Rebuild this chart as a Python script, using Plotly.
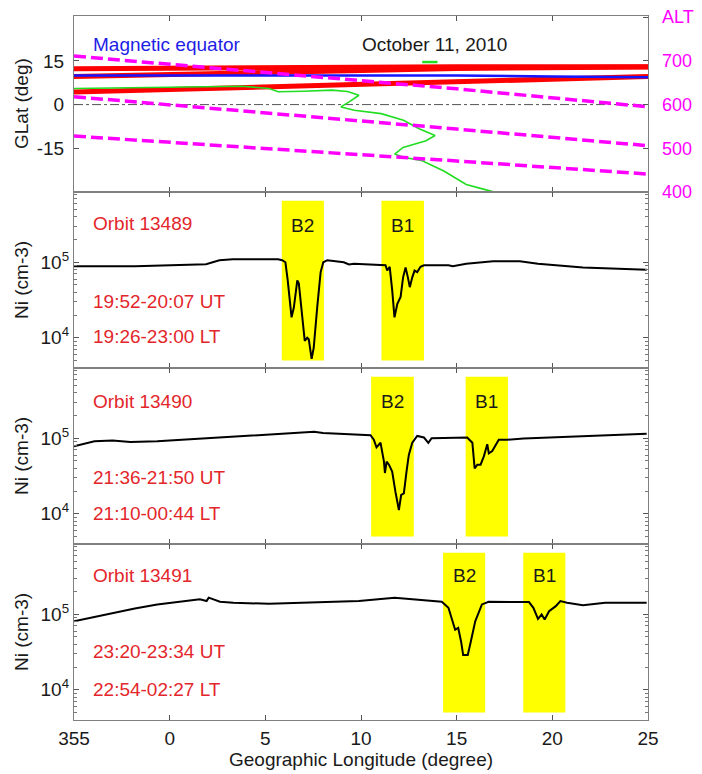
import numpy as np
import plotly.graph_objects as go

# ---------------- data ----------------
lon_tickvals = [-5, 0, 5, 10, 15, 20, 25]
lon_ticktext = ['355', '0', '5', '10', '15', '20', '25']
glat_tickvals = [-15, 0, 15]
glat_ticktext = ['-15', '0', '15']
alt_tickvals = [400, 500, 600, 700, 800]
alt_ticktext = ['400', '500', '600', '700', 'ALT']

# top panel: satellite tracks (GLat), magnetic equator, altitude, green curve
track_lon = [-5, 5, 15, 25]
track_a = [12.3, 12.8, 13.0, 13.0]
track_b = [9.6, 11.2, 12.4, 12.9]
track_c = [4.3, 6.2, 8.0, 9.6]

mag_eq_lon = [-5, 0, 5, 10, 15, 20, 25]
mag_eq_lat = [10.0, 10.0, 10.1, 10.2, 10.0, 9.6, 9.4]

alt_lon = [-5, 5, 15, 25]
alt_1 = [711, 673, 636, 595]
alt_2 = [618, 582, 544, 506]
alt_3 = [528, 500, 471, 441]

green_lon = [-5, -1, 3.8, 5.2, 5.67, 7.0, 8.48, 9.3, 9.89, 9.4, 8.95, 9.65, 11.05,
             12.22, 13.04, 13.87, 13.4, 12.2, 11.76, 12.22, 13.2, 14.33, 15.5, 16.44, 17.14]
green_lat = [5.5, 5.9, 6.3, 5.5, 4.4, 4.6, 4.95, 4.5, 3.2, 1.0, -0.8, -1.97, -3.1,
             -5.4, -8.3, -10.6, -12.4, -14.7, -17.0, -18.1, -19.3, -22.8, -27.4, -29.1, -30.3]
green2_lon = [13.2, 14.0]
green2_lat = [14.6, 14.6]

# Ni profiles (log10 of Ni in cm-3)
lon_13489 = [-5, -1.8, 1.9, 2.6, 3.3, 5.67, 5.88, 6.05, 6.17, 6.28, 6.37, 6.49, 6.67, 6.75,
             6.84, 6.98, 7.06, 7.19, 7.27, 7.42, 7.53, 7.71, 7.89, 8.03, 8.24, 9.1, 9.37,
             9.63, 11.1, 11.28, 11.37, 11.5, 11.63, 11.75, 11.9, 12.07, 12.2, 12.33, 12.45,
             12.55, 12.68, 12.8, 12.94, 13.11, 13.29, 14.57, 14.8, 15.5, 16.9, 18.3, 19.25,
             21.6, 24.93]
logni_13489 = [4.947, 4.947, 4.973, 5.027, 5.04, 5.04, 5.027, 5.0, 4.76, 4.45, 4.27, 4.40,
               4.76, 4.72, 4.49, 4.18, 3.96, 4.0, 3.98, 3.72, 3.87, 4.40, 4.87, 5.0, 5.027,
               5.0, 4.97, 4.98, 4.97, 4.96, 4.89, 4.94, 4.63, 4.27, 4.45, 4.54, 4.80, 4.93,
               4.80, 4.67, 4.80, 4.89, 4.87, 4.94, 4.96, 4.96, 4.947, 4.98, 5.013, 5.013,
               4.98, 4.93, 4.90]

lon_13490 = [-5, -3.93, -2.99, -2.05, -0.65, 1.69, 5.2, 7.55, 8.01, 9.89, 10.5, 10.67,
             10.81, 11.02, 11.2, 11.25, 11.34, 11.46, 11.63, 11.8, 11.98, 12.1, 12.24,
             12.38, 12.5, 12.68, 12.94, 13.29, 13.52, 13.69, 14.68, 15.55, 15.82, 15.94,
             16.08, 16.25, 16.42, 16.6, 16.68, 16.86, 17.2, 17.64, 18.5, 19.9, 21.6, 24.93]
logni_13490 = [4.893, 4.96, 4.97, 4.95, 4.96, 4.996, 5.05, 5.085, 5.07, 5.05, 5.04, 4.98,
               4.88, 4.94, 4.69, 4.54, 4.69, 4.65, 4.56, 4.29, 4.05, 4.25, 4.27, 4.56,
               4.78, 4.94, 5.03, 5.01, 4.94, 5.0, 5.01, 5.01, 4.94, 4.60, 4.65, 4.65,
               4.76, 4.92, 4.80, 4.83, 4.98, 4.98, 4.996, 5.01, 5.027, 5.06]

lon_13491 = [-5, -2.99, -1.82, -0.65, 0.52, 1.58, 1.93, 2.04, 2.63, 3.33, 5.2, 9.89, 11.76,
             13.63, 14.22, 14.57, 14.8, 14.92, 15.08, 15.23, 15.34, 15.58, 15.74, 15.97,
             16.32, 16.67, 18.78, 19.01, 19.25, 19.44, 19.6, 19.83, 20.18, 20.42, 20.77,
             21.6, 22.76, 24.93]
logni_13491 = [4.906, 5.018, 5.076, 5.13, 5.165, 5.197, 5.175, 5.22, 5.165, 5.152, 5.139,
               5.175, 5.22, 5.18, 5.165, 5.085, 4.906, 4.795, 4.82, 4.64, 4.46, 4.46, 4.64,
               4.906, 5.13, 5.165, 5.161, 5.085, 4.94, 4.996, 4.93, 5.04, 5.107, 5.175,
               5.152, 5.12, 5.152, 5.152]

# bubble (B2, B1) longitude extents per orbit and their Ni extent
bubbles_13489 = {'B2': [5.86, 8.06], 'B1': [11.07, 13.29]}
bubbles_13490 = {'B2': [10.53, 12.76], 'B1': [15.47, 17.68]}
bubbles_13491 = {'B2': [14.29, 16.49], 'B1': [18.48, 20.68]}
bubble_ni = [5.0e3, 6.5e5]

orbits = ['13489', '13490', '13491']
orbit_ut = ['19:52-20:07 UT', '21:36-21:50 UT', '23:20-23:34 UT']
orbit_lt = ['19:26-23:00 LT', '21:10-00:44 LT', '22:54-02:27 LT']

# ---------------- styles ----------------
FONT = 'Liberation Sans, Arial, sans-serif'
FS = 19
AXC = '#808080'
TXT = '#1a1a1a'
RED_TXT = '#e3262b'
W, H = 702, 774
ML, MR, MT, MB = 74, 54, 16, 54
PW, PH = W - ML - MR, H - MT - MB


def py2paper(py):
    return (H - MB - py) / PH


def px2paper(px):
    return (px - ML) / PW


fig = go.Figure()

# top panel traces
for tr in (track_a, track_b, track_c):
    fig.add_trace(go.Scatter(x=track_lon, y=tr, mode='lines', xaxis='x', yaxis='y',
                             line=dict(color='#ff0000', width=5), showlegend=False))
fig.add_trace(go.Scatter(x=mag_eq_lon, y=mag_eq_lat, mode='lines', xaxis='x', yaxis='y',
                         line=dict(color='#1515ff', width=2.5), showlegend=False))
fig.add_trace(go.Scatter(x=[-5, 25], y=[0, 0], mode='lines', xaxis='x', yaxis='y',
                         line=dict(color='#555555', width=1, dash='dashdot'), showlegend=False))
fig.add_trace(go.Scatter(x=green_lon, y=green_lat, mode='lines', xaxis='x', yaxis='y',
                         line=dict(color='#22dd22', width=1.6), showlegend=False))
fig.add_trace(go.Scatter(x=green2_lon, y=green2_lat, mode='lines', xaxis='x', yaxis='y',
                         line=dict(color='#22dd22', width=2.5), showlegend=False))
for al in (alt_1, alt_2, alt_3):
    fig.add_trace(go.Scatter(x=alt_lon, y=al, mode='lines', xaxis='x', yaxis='y5',
                             line=dict(color='#ff00ff', width=3.5, dash='12px,5px'),
                             showlegend=False))

# Ni panels
ni_sets = [(lon_13489, logni_13489, bubbles_13489),
           (lon_13490, logni_13490, bubbles_13490),
           (lon_13491, logni_13491, bubbles_13491)]
label_py = [225, 401.7, 575.5]
orbit_py = [224, 401.7, 575.7]
ut_py = [301.7, 477, 651.7]
lt_py = [336.7, 513, 689]

annotations = []
for i, (lons, logni, bubbles) in enumerate(ni_sets):
    xa = 'x%d' % (i + 2)
    ya = 'y%d' % (i + 2)
    for name, (b0, b1) in bubbles.items():
        fig.add_trace(go.Scatter(x=[b0, b1, b1, b0, b0],
                                 y=[bubble_ni[0], bubble_ni[0], bubble_ni[1], bubble_ni[1], bubble_ni[0]],
                                 mode='lines', fill='toself', fillcolor='#ffff00',
                                 line=dict(width=0, color='#ffff00'),
                                 xaxis=xa, yaxis=ya, showlegend=False, hoverinfo='skip'))
        annotations.append(dict(x=(b0 + b1) / 2, y=py2paper(label_py[i]), xref=xa, yref='paper',
                                text=name, showarrow=False, xanchor='center', yanchor='middle',
                                font=dict(family=FONT, size=FS, color=TXT)))
    fig.add_trace(go.Scatter(x=lons, y=10 ** np.array(logni), mode='lines',
                             line=dict(color='#000000', width=2),
                             xaxis=xa, yaxis=ya, showlegend=False))
    for txt, pyv in ((f'Orbit {orbits[i]}', orbit_py[i]), (orbit_ut[i], ut_py[i]), (orbit_lt[i], lt_py[i])):
        annotations.append(dict(x=px2paper(91), y=py2paper(pyv), xref='paper', yref='paper',
                                text=txt, showarrow=False, xanchor='left', yanchor='middle',
                                font=dict(family=FONT, size=FS, color=RED_TXT)))
    annotations.append(dict(x=px2paper(21), y=(py2paper(192 + 176 * i) + py2paper(368 + 176 * i)) / 2,
                            xref='paper', yref='paper', text='Ni (cm-3)', textangle=-90,
                            showarrow=False, xanchor='center', yanchor='middle',
                            font=dict(family=FONT, size=FS, color=TXT)))

annotations += [
    dict(x=px2paper(21), y=py2paper(104), xref='paper', yref='paper', text='GLat (deg)',
         textangle=-90, showarrow=False, xanchor='center', yanchor='middle',
         font=dict(family=FONT, size=FS, color=TXT)),
    dict(x=px2paper(91), y=py2paper(45), xref='paper', yref='paper', text='Magnetic equator',
         showarrow=False, xanchor='left', yanchor='middle',
         font=dict(family=FONT, size=FS, color='#1e1ee6')),
    dict(x=px2paper(360), y=py2paper(45), xref='paper', yref='paper', text='October 11, 2010',
         showarrow=False, xanchor='left', yanchor='middle',
         font=dict(family=FONT, size=FS, color=TXT)),
    dict(x=0.5, y=py2paper(759), xref='paper', yref='paper', text='Geographic Longitude (degree)',
         showarrow=False, xanchor='center', yanchor='middle',
         font=dict(family=FONT, size=FS, color=TXT)),
]

minor_vals = [m * 10 ** e for e in (3, 4, 5) for m in range(2, 10)]

xcommon = dict(range=[-5, 25], tickmode='array', tickvals=lon_tickvals, ticktext=lon_ticktext,
               ticks='inside', ticklen=5, tickcolor='#555555', showline=True, linecolor=AXC,
               linewidth=1.2, mirror='ticks', showgrid=False, zeroline=False,
               tickfont=dict(family=FONT, size=FS, color=TXT), domain=[0, 1])
logy = dict(type='log', range=[3.6, 5.93], tickmode='array', tickvals=[1e4, 1e5],
            ticktext=['10<sup>4</sup>', '10<sup>5</sup>'], ticks='inside', ticklen=5,
            tickcolor='#555555', showline=True, linecolor=AXC, linewidth=1.2, mirror='ticks',
            showgrid=False, zeroline=False, tickfont=dict(family=FONT, size=FS, color=TXT),
            minor=dict(ticks='inside', ticklen=3, tickcolor='#777777', tickvals=minor_vals))

doms = [[0.75, 1.0], [0.5, 0.75], [0.25, 0.5], [0.0, 0.25]]

layout = dict(
    width=W, height=H, margin=dict(l=ML, r=MR, t=MT, b=MB, autoexpand=False),
    paper_bgcolor='white', plot_bgcolor='white', showlegend=False,
    annotations=annotations,
    xaxis=dict(xcommon, anchor='y', showticklabels=False),
    yaxis=dict(domain=doms[0], range=[-30, 30.4], tickmode='array', tickvals=glat_tickvals,
               ticktext=glat_ticktext,
               ticks='inside', ticklen=5, tickcolor='#555555', showline=True, linecolor=AXC,
               linewidth=1.2, mirror=True, showgrid=False, zeroline=False,
               tickfont=dict(family=FONT, size=FS, color=TXT), anchor='x', ticklabelstandoff=5),
    yaxis5=dict(overlaying='y', side='right', anchor='x', range=[400, 802.7], tickmode='array',
                tickvals=alt_tickvals, ticktext=alt_ticktext,
                ticks='inside', ticklen=5, tickcolor='#555555', showline=False, showgrid=False,
                zeroline=False, tickfont=dict(family=FONT, size=18, color='#ff00ff'),
                ticklabelstandoff=13),
)
for i in range(3):
    n = i + 2
    layout['xaxis%d' % n] = dict(xcommon, anchor='y%d' % n, matches='x',
                                 showticklabels=(n == 4), ticklabelstandoff=1)
    layout['yaxis%d' % n] = dict(logy, domain=doms[i + 1], anchor='x%d' % n)

fig.update_layout(**layout)
fig.write_html('out.html', config={'displayModeBar': False},
               post_script="document.body.style.margin='0px';")
